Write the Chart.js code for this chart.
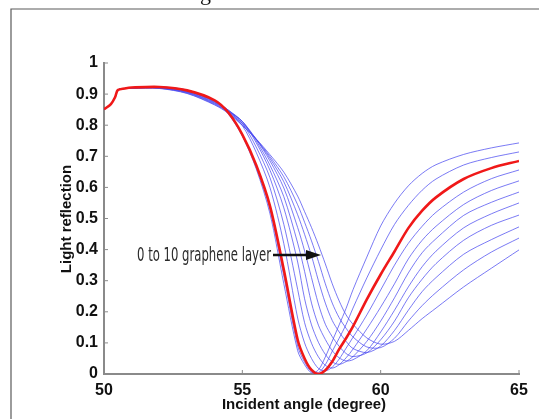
<!DOCTYPE html>
<html>
<head>
<meta charset="utf-8">
<script src="https://cdn.jsdelivr.net/npm/chart.js@4"></script>
<style>
  html, body { margin: 0; padding: 0; background: #fff; }
  #box { width: 539px; height: 419px; }
</style>
</head>
<body>
<div id="box"><canvas id="chart" width="539" height="419"></canvas></div>
<script>
// Incident angle (degree)
let angles = [50, 50.25, 50.4, 50.5, 50.75, 51, 52, 53, 54, 54.5, 55, 55.5, 56, 56.5, 57, 57.25, 57.5, 57.75,
  58, 58.25, 58.5, 58.75, 59, 59.5, 60, 60.5, 61, 61.5, 62, 63, 64, 65];

// Light reflection for 0 .. 10 graphene layers
let layer0 = [0.851, 0.868, 0.89, 0.913, 0.918, 0.921, 0.923, 0.913, 0.879, 0.835, 0.765, 0.66, 0.515, 0.29, 0.075, 0.03, 0.004, 0.013,
  0.055, 0.106, 0.158, 0.211, 0.271, 0.376, 0.476, 0.549, 0.605, 0.645, 0.673, 0.706, 0.727, 0.743];
let layer1 = [0.851, 0.868, 0.89, 0.913, 0.918, 0.921, 0.923, 0.913, 0.88, 0.838, 0.77, 0.668, 0.53, 0.315, 0.09, 0.038, 0.007, 0.004,
  0.03, 0.073, 0.115, 0.159, 0.212, 0.309, 0.399, 0.481, 0.542, 0.591, 0.627, 0.672, 0.696, 0.714];
let layer2 = [0.851, 0.868, 0.89, 0.913, 0.918, 0.921, 0.923, 0.912, 0.88, 0.84, 0.77, 0.672, 0.54, 0.335, 0.11, 0.05, 0.013, 0,
  0.012, 0.04, 0.08, 0.115, 0.153, 0.24, 0.32, 0.394, 0.469, 0.525, 0.568, 0.627, 0.662, 0.685];
let layer3 = [0.851, 0.868, 0.89, 0.913, 0.918, 0.921, 0.922, 0.911, 0.879, 0.845, 0.799, 0.713, 0.599, 0.419, 0.18, 0.1, 0.05, 0.018,
  0.01, 0.022, 0.048, 0.083, 0.118, 0.19, 0.27, 0.35, 0.42, 0.475, 0.52, 0.585, 0.628, 0.656];
let layer4 = [0.851, 0.868, 0.89, 0.913, 0.918, 0.92, 0.922, 0.91, 0.877, 0.848, 0.806, 0.73, 0.631, 0.481, 0.272, 0.165, 0.099, 0.055,
  0.028, 0.019, 0.03, 0.052, 0.08, 0.145, 0.215, 0.29, 0.37, 0.43, 0.475, 0.545, 0.59, 0.621];
let layer5 = [0.851, 0.868, 0.89, 0.913, 0.918, 0.92, 0.921, 0.909, 0.875, 0.848, 0.812, 0.744, 0.655, 0.534, 0.36, 0.242, 0.158, 0.102,
  0.063, 0.039, 0.031, 0.04, 0.056, 0.105, 0.17, 0.245, 0.325, 0.39, 0.435, 0.51, 0.552, 0.585];
let layer6 = [0.851, 0.868, 0.89, 0.913, 0.918, 0.92, 0.921, 0.907, 0.873, 0.846, 0.812, 0.75, 0.671, 0.57, 0.421, 0.33, 0.228, 0.157,
  0.111, 0.075, 0.052, 0.042, 0.046, 0.075, 0.135, 0.205, 0.28, 0.345, 0.395, 0.47, 0.515, 0.55];
let layer7 = [0.851, 0.868, 0.89, 0.913, 0.918, 0.92, 0.92, 0.906, 0.871, 0.844, 0.812, 0.755, 0.685, 0.598, 0.471, 0.396, 0.31, 0.225,
  0.16, 0.12, 0.089, 0.066, 0.056, 0.068, 0.11, 0.17, 0.245, 0.305, 0.355, 0.43, 0.478, 0.511];
let layer8 = [0.851, 0.868, 0.89, 0.913, 0.918, 0.919, 0.919, 0.905, 0.869, 0.842, 0.806, 0.755, 0.693, 0.618, 0.512, 0.449, 0.38, 0.3,
  0.228, 0.172, 0.135, 0.105, 0.082, 0.069, 0.09, 0.14, 0.205, 0.265, 0.31, 0.385, 0.432, 0.473];
let layer9 = [0.851, 0.868, 0.89, 0.913, 0.918, 0.919, 0.919, 0.903, 0.867, 0.84, 0.801, 0.755, 0.699, 0.634, 0.544, 0.488, 0.428, 0.362,
  0.29, 0.228, 0.181, 0.147, 0.119, 0.087, 0.085, 0.115, 0.17, 0.22, 0.262, 0.335, 0.392, 0.437];
let layer10 = [0.851, 0.868, 0.89, 0.913, 0.918, 0.919, 0.918, 0.902, 0.865, 0.838, 0.799, 0.756, 0.705, 0.649, 0.572, 0.522, 0.471, 0.415,
  0.354, 0.29, 0.235, 0.19, 0.16, 0.116, 0.096, 0.105, 0.14, 0.178, 0.212, 0.28, 0.34, 0.399];

let layers = [layer0, layer1, layer2, layer3, layer4, layer5, layer6, layer7, layer8, layer9, layer10];
let redLayer = 2; // highlighted curve

let xTicks = [50, 55, 60, 65];
let yTicks = [0, 0.1, 0.2, 0.3, 0.4, 0.5, 0.6, 0.7, 0.8, 0.9, 1];
let xTitle = "Incident angle (degree)";
let yTitle = "Light reflection";
let noteText = "0 to 10 graphene layer";

let boldFont = "bold 15px 'Liberation Sans', Arial";

// -----------------------------------
// Datasets, one line per layer count.
let datasets = [];
for (let k = 0; k < layers.length; k++) {
  let points = [];
  for (let i = 0; i < angles.length; i++) {
    points.push({ x: angles[i], y: layers[k][i] });
  }
  let isRed = k === redLayer;
  datasets.push({
    data: points,
    borderColor: isRed ? "#f01818" : "rgba(70, 70, 240, 0.72)",
    borderWidth: isRed ? 2.6 : 1,
    pointRadius: 0,
    tension: 0.3,
    order: isRed ? -1 : 0,
  });
}

// Frame, axis titles, small inward ticks, arrow note.
let extras = {
  id: "extras",
  beforeDraw(chart) {
    let ctx = chart.ctx;
    ctx.save();
    ctx.fillStyle = "#fff";
    ctx.fillRect(0, 0, chart.width, chart.height);
    ctx.strokeStyle = "#5a5a5a";
    ctx.lineWidth = 1.2;
    ctx.beginPath();
    ctx.moveTo(11, 419);
    ctx.lineTo(11, 9);
    ctx.lineTo(539, 9);
    ctx.stroke();
    // bottom of a caption glyph above the frame
    ctx.fillStyle = "#111";
    ctx.font = "22px 'Liberation Serif'";
    ctx.textBaseline = "alphabetic";
    ctx.fillText("g", 200, 0);
    ctx.restore();
  },
  afterDraw(chart) {
    let ctx = chart.ctx;
    let xs = chart.scales.x;
    let ys = chart.scales.y;
    let area = chart.chartArea;
    ctx.save();
    ctx.strokeStyle = "#8a8a8a";
    ctx.lineWidth = 1;
    ctx.beginPath();
    for (let t = 1; t < xTicks.length; t++) {
      let px = xs.getPixelForValue(xTicks[t]);
      ctx.moveTo(px, area.bottom);
      ctx.lineTo(px, area.bottom - 4);
    }
    for (let t = 1; t < yTicks.length; t++) {
      let py = ys.getPixelForValue(yTicks[t]);
      ctx.moveTo(area.left, py);
      ctx.lineTo(area.left + 4, py);
    }
    ctx.stroke();

    // axis titles
    ctx.fillStyle = "#111";
    ctx.font = boldFont;
    ctx.textAlign = "center";
    ctx.textBaseline = "middle";
    ctx.fillText(xTitle, 304, 405);
    ctx.translate(67, 219);
    ctx.rotate(-Math.PI / 2);
    ctx.fillText(yTitle, 0, 0);
    ctx.setTransform(1, 0, 0, 1, 0, 0);

    // condensed label text
    ctx.fillStyle = "#2a2a2a";
    ctx.font = "20px 'DejaVu Sans'";
    ctx.textAlign = "left";
    ctx.textBaseline = "alphabetic";
    let w = ctx.measureText(noteText).width;
    ctx.translate(137, 261);
    ctx.scale(134 / w, 1);
    ctx.fillText(noteText, 0, 0);
    ctx.setTransform(1, 0, 0, 1, 0, 0);

    // arrow
    ctx.strokeStyle = "#111";
    ctx.fillStyle = "#111";
    ctx.lineWidth = 2.4;
    ctx.beginPath();
    ctx.moveTo(273, 255);
    ctx.lineTo(309, 255);
    ctx.stroke();
    ctx.beginPath();
    ctx.moveTo(306, 250);
    ctx.lineTo(321, 255);
    ctx.lineTo(306, 260);
    ctx.closePath();
    ctx.fill();
    ctx.restore();
  },
};

let tickFont = { family: "'Liberation Sans', Arial", size: 16, weight: "bold" };

let chartCanvas = document.getElementById("chart");
let chart = new Chart(chartCanvas, {
  type: "line",
  data: { datasets: datasets },
  options: {
    responsive: false,
    animation: false,
    layout: { padding: { left: 0, top: 63, right: 20, bottom: 0 } },
    plugins: { legend: { display: false }, tooltip: { enabled: false } },
    scales: {
      x: {
        type: "linear",
        min: 50,
        max: 65,
        afterFit: (scale) => { scale.height = 45; },
        afterBuildTicks: (scale) => { scale.ticks = xTicks.map((v) => ({ value: v })); },
        grid: { display: true, drawOnChartArea: false, drawTicks: false },
        border: { display: true, color: "#8a8a8a", width: 2 },
        ticks: { padding: 7, color: "#111", font: tickFont, maxRotation: 0 },
      },
      y: {
        min: 0,
        max: 1,
        afterFit: (scale) => { scale.width = 104; },
        afterBuildTicks: (scale) => { scale.ticks = yTicks.map((v) => ({ value: v })); },
        grid: { display: true, drawOnChartArea: false, drawTicks: false },
        border: { display: true, color: "#8a8a8a", width: 2 },
        ticks: {
          padding: 6,
          color: "#111",
          font: tickFont,
          callback: (v) => String(Math.round(v * 10) / 10),
        },
      },
    },
  },
  plugins: [extras],
});
</script>
</body>
</html>
